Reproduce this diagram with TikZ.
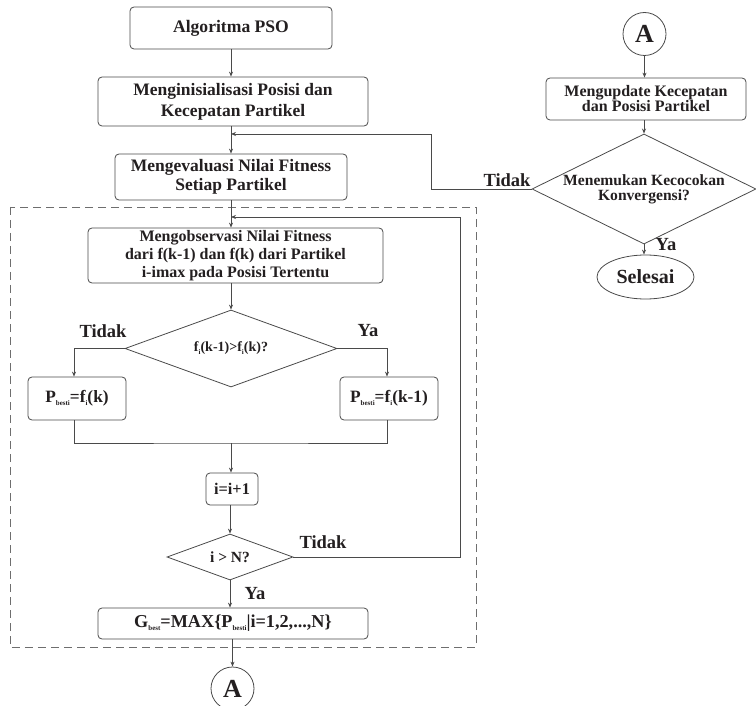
\documentclass[tikz,border=0pt]{standalone}
\usepackage{fontspec}
\setmainfont{Liberation Serif}
\usetikzlibrary{shapes.geometric,arrows.meta}
\definecolor{ln}{HTML}{4A4A4A}
\definecolor{tx}{HTML}{231F20}
\newcommand\mysub[1]{\raisebox{-2.4pt}{\fontsize{7}{7}\selectfont #1}}
\newcommand\fs[2]{\fontsize{#1}{#2}\selectfont}
\tikzset{
  base/.style={draw=ln, line width=0.8pt, text=tx, font=\bfseries, inner sep=0pt, align=center},
  box/.style={base, rectangle, rounded corners=4pt},
  dia/.style={base, diamond, aspect=2},
  circ/.style={base, circle, minimum size=43pt},
  oval/.style={base, ellipse},
  arr/.style={draw=ln, line width=0.8pt, -{Stealth[length=5pt,width=4pt]}},
  con/.style={draw=ln, line width=0.8pt},
  lbl/.style={text=tx, font=\bfseries\fs{18.5}{19}, inner sep=0pt},
}
\begin{document}
\begin{tikzpicture}[x=1pt,y=-1pt]
\useasboundingbox[fill=white] (0,0) rectangle (756,706);
\draw[draw=ln!80, line width=0.8pt, dash pattern=on 8pt off 5pt] (10,207) rectangle (476,647);

\node[box, minimum width=202pt, minimum height=42pt, font=\bfseries\fs{17.6}{19}] (alg) at (231,28) {Algoritma PSO};
\node[box, minimum width=270pt, minimum height=49pt, font=\bfseries\fs{17.5}{21}] (init) at (233,101.5) {Menginisialisasi Posisi dan\\Kecepatan Partikel};
\node[box, minimum width=232pt, minimum height=46pt, font=\bfseries\fs{17.5}{19}] (eval) at (231,177) {Mengevaluasi Nilai Fitness\\Setiap Partikel};
\node[box, minimum width=295pt, minimum height=55pt, font=\bfseries\fs{16}{18}] (obs) at (235.5,255.5) {Mengobservasi Nilai Fitness\\dari f(k-1) dan f(k) dari Partikel\\i-imax pada Posisi Tertentu};
\node[dia, minimum width=212pt, minimum height=77pt, font=\bfseries\fs{14}{16}] (dec1) at (231,348.5) {f\mysub{i}(k-1)>f\mysub{i}(k)?};
\node[box, minimum width=98pt, minimum height=43pt, font=\bfseries\fs{17.3}{18}] (pl) at (77,398.5) {P\mysub{besti}=f\mysub{i}(k)};
\node[box, minimum width=98pt, minimum height=43pt, font=\bfseries\fs{17.3}{18}] (pr) at (389,398.5) {P\mysub{besti}=f\mysub{i}(k-1)};
\coordinate (m) at (231,443);
\node[box, minimum width=52pt, minimum height=32pt, font=\bfseries\fs{16.3}{17}] (inc) at (232,489) {i=i+1};
\node[dia, minimum width=126pt, minimum height=46pt, font=\bfseries\fs{15.5}{16}] (dec2) at (230,557) {i > N?};
\node[box, minimum width=270pt, minimum height=31pt, font=\bfseries\fs{18.2}{19}] (gbest) at (233,623.5) {G\mysub{best}=MAX\{P\mysub{besti}|i=1,2,...,N\}};
\node[circ, font=\bfseries\fs{26}{26}] (ca) at (232.5,688.5) {A};

\node[circ, font=\bfseries\fs{26}{26}] (cb) at (644.5,34) {A};
\node[box, minimum width=200pt, minimum height=42pt, font=\bfseries\fs{16}{15}] (upd) at (646,99) {Mengupdate Kecepatan\\dan Posisi Partikel};
\node[dia, minimum width=224pt, minimum height=82pt, font=\bfseries\fs{15.6}{15}] (dec3) at (644,189) {Menemukan Kecocokan\\Konvergensi?};
\node[oval, minimum width=97pt, minimum height=44pt, font=\bfseries\fs{20}{20}] (sel) at (645.5,277) {Selesai};

\coordinate (j1) at (231,134);
\coordinate (j2) at (231,217);

\draw[arr] (alg.south) -- (alg.south |- init.north);
\draw[arr] (eval.north |- init.south) -- (eval.north);
\draw[arr] (eval.south) -- (eval.south |- obs.north);
\draw[arr] (dec3.west) -- ++(-100,0) |- (j1);
\draw[arr] (dec2.east) -- ++(167,0) |- (j2);
\draw[arr] (dec1.north |- obs.south) -- (dec1.north);
\draw[arr] (dec1.west) -| ([xshift=-3pt]pl.north);
\draw[arr] (dec1.east) -| ([xshift=-2pt]pr.north);
\draw[con] ([xshift=-3pt]pl.south) |- (m) -| ([xshift=-2pt]pr.south);
\draw[arr] (m) -- (inc.north -| m);
\draw[arr] (inc.south -| dec2.north) -- (dec2.north);
\draw[arr] (dec2.south) -- (dec2.south |- gbest.north);
\draw[arr] (ca.north |- gbest.south) -- (ca.north);
\draw[arr] (cb.south) -- (cb.south |- upd.north);
\draw[arr] (dec3.north |- upd.south) -- (dec3.north);
\draw[arr] (dec3.south) -- (dec3.south |- sel.north);

\node[lbl] (t1) at (103,331) {Tidak};
\node[lbl] (y1) at (368,331) {Ya};
\node[lbl] (t2) at (323,542) {Tidak};
\node[lbl] (y2) at (255,594) {Ya};
\node[lbl] (t3) at (507,180) {Tidak};
\node[lbl] (y3) at (666,245) {Ya};
\end{tikzpicture}
\end{document}
